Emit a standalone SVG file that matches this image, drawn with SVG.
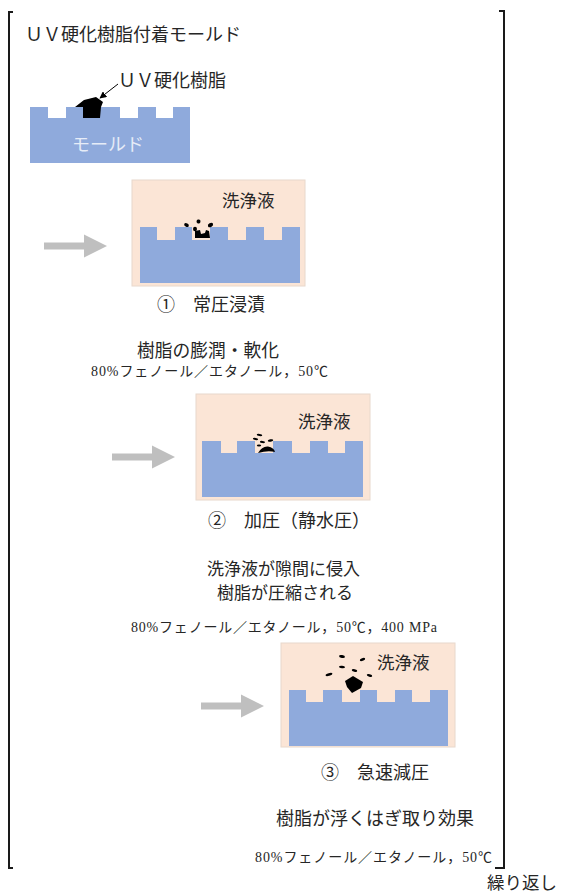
<svg xmlns="http://www.w3.org/2000/svg" xmlns:xlink="http://www.w3.org/1999/xlink" width="563" height="893" viewBox="0 0 563 893">
  <style>
    .t { font-family: "Noto Sans CJK JP", "Noto Sans", sans-serif; fill: #262626; }
    .c { font-family: "Liberation Serif", "Noto Sans CJK JP", serif; fill: #262626; font-size: 14px; }
    .bracket { fill: none; stroke: #1a1a1a; stroke-width: 2; }
    .mold { fill: #8faadc; }
    .bath { fill: #fbe5d6; stroke: #e8d8cc; stroke-width: 1; }
    .resin { fill: #000; }
    .step { fill: #bfbfbf; }
  </style>
  <defs>
    <path id="stepArrow" class="step" d="M-63,-3.5 H-23 V-11.5 L0,0 L-23,11.5 V3.5 H-63 Z"/>
    <marker id="tip" viewBox="0 0 10 10" refX="9" refY="5" markerWidth="7" markerHeight="7" orient="auto" markerUnits="userSpaceOnUse">
      <path d="M0,0 L10,5 L0,10 Z" fill="#000"/>
    </marker>
  </defs>

  <!-- repeat bracket -->
  <g id="bracket">
    <path class="bracket" d="M13,12 H9 V868 H13"/>
    <path class="bracket" d="M499,11 H504 V868 H495"/>
    <text class="t" x="487" y="889" font-size="17.5">繰り返し</text>
  </g>

  <!-- initial state: mold with cured resin -->
  <g id="initial">
    <text class="t" x="25" y="41" font-size="18">ＵＶ硬化樹脂付着モールド</text>
    <path class="mold" d="M30,107 H48 V118 H66 V107 H83 V118 H100 V107 H120 V118 H138 V107 H156 V118 H173 V107 H190 V163 H30 Z"/>
    <text x="72" y="151" font-size="18" fill="#e6ecf7" font-family="Noto Sans CJK JP, sans-serif">モールド</text>
    <path class="resin" d="M75,107 L84,100 L96,97 L103,102 L101,107 L100,118 L83,118 L83,107 Z"/>
    <text class="t" x="118" y="87" font-size="18">ＵＶ硬化樹脂</text>
  </g>

  <!-- step 1: atmospheric immersion -->
  <g id="step1">
    <rect class="bath" x="132" y="180" width="173" height="106"/>
    <path class="mold" d="M140,227 H157 V240 H175 V227 H192 V240 H210 V227 H228 V240 H246 V227 H264 V240 H282 V227 H300 V283 H140 Z"/>
    <text class="t" x="222" y="207" font-size="17.5">洗浄液</text>
    <g class="resin">
      <ellipse cx="186.5" cy="225" rx="2.5" ry="1.8" transform="rotate(30 186.5 225)"/>
      <ellipse cx="198.5" cy="221.5" rx="2" ry="2" transform="rotate(20 198.5 221.5)"/>
      <ellipse cx="210.5" cy="225" rx="2.8" ry="2" transform="rotate(-30 210.5 225)"/>
      <ellipse cx="195" cy="229" rx="2" ry="2.2"/>
      <path d="M195,231 L200,230 L201,234 L205,233 L206,230 L209,231 L210,238 L195,238 Z"/>
    </g>
    <text class="t" x="157" y="311" font-size="18">①　常圧浸漬</text>
    <text class="t" x="137" y="357" font-size="18" textLength="142" lengthAdjust="spacingAndGlyphs">樹脂の膨潤・軟化</text>
    <text class="c" x="91" y="376" textLength="237" lengthAdjust="spacing">80%フェノール／エタノール，50℃</text>
  </g>

  <!-- step 2: hydrostatic pressurisation -->
  <g id="step2">
    <rect class="bath" x="196" y="394" width="174" height="106"/>
    <path class="mold" d="M202,441 H221 V453 H237 V441 H255 V453 H273 V441 H292 V453 H310 V441 H328 V453 H345 V441 H363 V497 H202 Z"/>
    <text class="t" x="298" y="428" font-size="17.5">洗浄液</text>
    <g class="resin">
      <ellipse cx="259.5" cy="435" rx="2.8" ry="1.1" transform="rotate(8 259.5 435)"/>
      <ellipse cx="255.5" cy="439" rx="2.6" ry="1.1" transform="rotate(10 255.5 439)"/>
      <ellipse cx="270.5" cy="440.5" rx="2.8" ry="1.2" transform="rotate(-12 270.5 440.5)"/>
      <ellipse cx="262.5" cy="442" rx="2.6" ry="1.1" transform="rotate(8 262.5 442)"/>
      <ellipse cx="259" cy="445.5" rx="2.2" ry="1.1"/>
      <path d="M258,453 Q262,446 268,446.5 Q274,447.5 275,452 Q268,450 258,453 Z"/>
    </g>
    <text class="t" x="208" y="527" font-size="18">②　加圧（静水圧）</text>
    <text class="t" x="207" y="575" font-size="16.5" textLength="153" lengthAdjust="spacingAndGlyphs">洗浄液が隙間に侵入</text>
    <text class="t" x="217" y="599" font-size="16.5" textLength="136" lengthAdjust="spacingAndGlyphs">樹脂が圧縮される</text>
    <text class="c" x="131" y="632" textLength="306" lengthAdjust="spacing">80%フェノール／エタノール，50℃，400 MPa</text>
  </g>

  <!-- step 3: rapid decompression -->
  <g id="step3">
    <rect class="bath" x="281" y="643" width="174" height="104"/>
    <path class="mold" d="M289,690 H306 V702 H323 V690 H342 V702 H360 V690 H377 V702 H395 V690 H412 V702 H430 V690 H448 V746 H289 Z"/>
    <text class="t" x="377" y="669" font-size="17.5">洗浄液</text>
    <g class="resin">
      <ellipse cx="342" cy="656.5" rx="3" ry="1.4" transform="rotate(10 342 656.5)"/>
      <ellipse cx="362.5" cy="659.5" rx="2.8" ry="1.4" transform="rotate(-20 362.5 659.5)"/>
      <ellipse cx="342" cy="667" rx="3" ry="1.3" transform="rotate(5 342 667)"/>
      <ellipse cx="354.5" cy="670.5" rx="2.8" ry="1.3" transform="rotate(12 354.5 670.5)"/>
      <ellipse cx="329" cy="674.5" rx="3.5" ry="1.3" transform="rotate(-15 329 674.5)"/>
      <ellipse cx="369.5" cy="675.5" rx="2.8" ry="1.3" transform="rotate(15 369.5 675.5)"/>
      <path d="M345,681 L353,676 L363,682 L361,688 L352,693 L347,687 Z"/>
    </g>
    <text class="t" x="321" y="779" font-size="18">③　急速減圧</text>
    <text class="t" x="276" y="825" font-size="18" textLength="198" lengthAdjust="spacingAndGlyphs">樹脂が浮くはぎ取り効果</text>
    <text class="c" x="255" y="862" textLength="237" lengthAdjust="spacing">80%フェノール／エタノール，50℃</text>
  </g>

  <!-- connectors: leader line and step arrows -->
  <g id="connectors">
    <line x1="118" y1="84" x2="100" y2="98" stroke="#000" stroke-width="1" marker-end="url(#tip)"/>
    <use xlink:href="#stepArrow" x="107" y="246"/>
    <use xlink:href="#stepArrow" x="175" y="457"/>
    <use xlink:href="#stepArrow" x="264" y="706"/>
  </g>
</svg>
